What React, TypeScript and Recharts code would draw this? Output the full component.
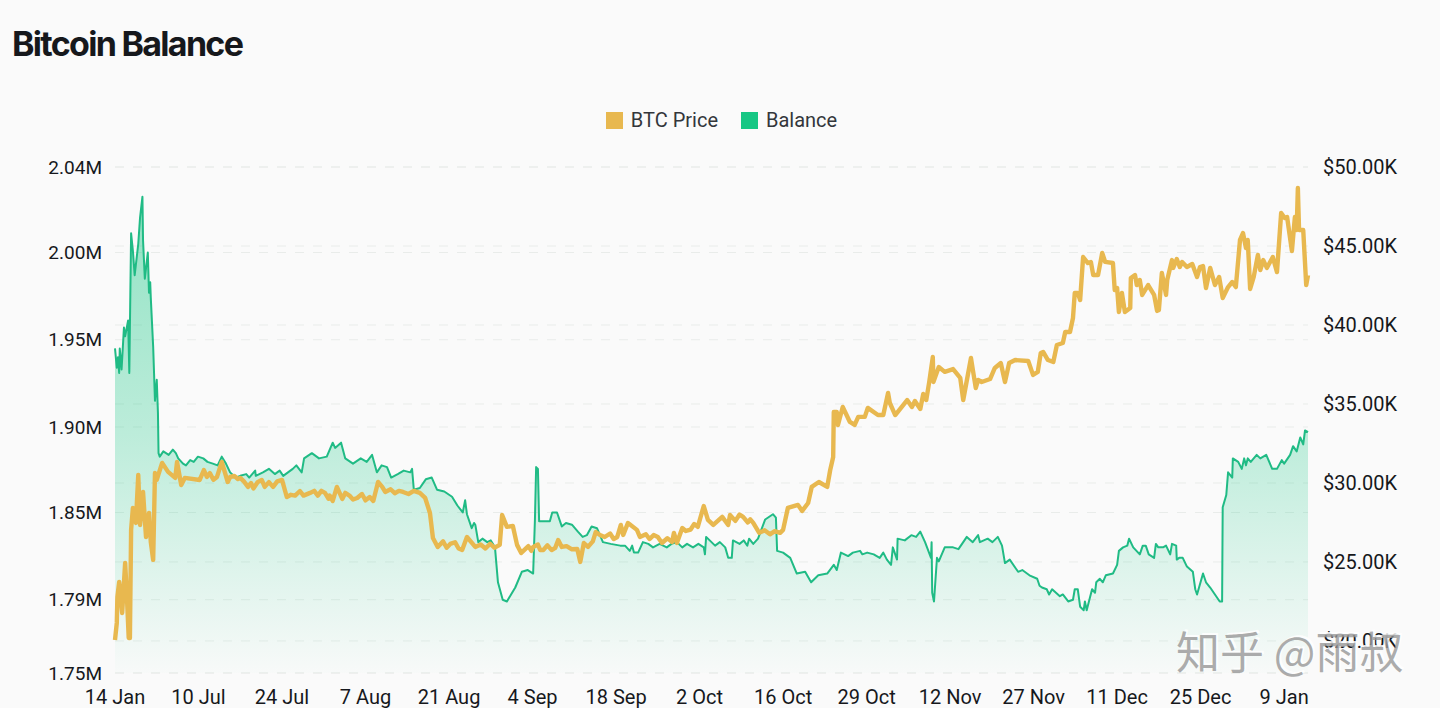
import {
  Area,
  CartesianGrid,
  ComposedChart,
  Legend,
  Line,
  XAxis,
  YAxis,
} from "recharts";

const gold = "#e8b84f";
const green = "#16c784";
const lineGreen = "#20bb85";
const gridColor = "#e9ecea";
const inkColor = "#16181c";
const tickFont = "Roboto, Inter, sans-serif";

const dayTicks = [0, 14, 28, 42, 56, 70, 84, 98, 112, 126, 140, 154, 168, 182, 196];
const dayLabels = [
  "14 Jan", "10 Jul", "24 Jul", "7 Aug", "21 Aug", "4 Sep", "18 Sep", "2 Oct",
  "16 Oct", "29 Oct", "12 Nov", "27 Nov", "11 Dec", "25 Dec", "9 Jan",
];
const balanceTicks = [1.75, 1.792, 1.842, 1.891, 1.941, 1.991, 2.04];
const balanceLabels = ["1.75M", "1.79M", "1.85M", "1.90M", "1.95M", "2.00M", "2.04M"];
const priceTicks = [20, 25, 30, 35, 40, 45, 50];

const balanceDays = [
  0, 0.3, 0.5, 0.7, 0.8, 1.1, 1.5, 1.7, 2.2, 2.4, 2.7, 3.0, 3.3, 3.9, 4.2, 4.6, 4.7, 5.0, 5.5, 5.7,
  5.9, 6.0, 6.4, 6.7, 7.0, 7.2, 7.3, 7.5, 8.1, 9.7, 10.6, 11.9, 12.6, 14.8, 16.4, 17.9, 19.3, 21.0, 22.5, 23.5,
  23.6, 24.8, 28.2, 29.8, 31.3, 31.7, 35.5, 36.5, 37.9, 38.6, 39.9, 43.1, 43.9, 45.6, 46.3, 49.5, 49.8, 50.1, 51.1, 52.1,
  53.1, 54.0, 56.5, 58.3, 58.7, 59.0, 59.8, 60.4, 60.9, 62.4, 63.7, 64.2, 65.0, 65.7, 67.1, 68.2, 69.2, 70.1, 70.4, 70.6,
  70.9, 71.1, 72.9, 73.3, 74.1, 74.9, 76.6, 77.6, 79.1, 80.8, 81.8, 84.7, 86.3, 86.7, 87.0, 87.7, 88.5, 90.2, 92.5, 94.2,
  95.1, 96.9, 98.7, 98.9, 99.1, 100.6, 102.3, 102.8, 103.4, 103.6, 106.0, 106.3, 107.0, 107.8, 109.0, 110.3, 110.8, 111.0, 112.0, 113.2,
  114.3, 115.7, 116.7, 117.9, 119.4, 120.5, 121.0, 121.7, 122.9, 123.7, 126.1, 128.2, 128.8, 130.1, 130.4, 131.1, 131.2, 132.4, 135.0, 135.8,
  136.8, 136.9, 137.0, 137.3, 137.8, 138.1, 139.1, 140.5, 142.2, 142.8, 143.8, 144.7, 145.0, 148.0, 148.7, 149.2, 150.0, 151.4, 152.1, 154.6,
  155.4, 156.2, 156.6, 157.1, 158.4, 159.8, 160.6, 160.9, 161.4, 161.8, 162.4, 162.6, 162.9, 163.8, 164.3, 164.5, 165.1, 165.6, 166.1, 167.3,
  168.0, 168.3, 169.0, 169.7, 170.0, 170.7, 171.8, 172.3, 172.8, 173.3, 174.2, 174.5, 174.9, 175.7, 176.2, 176.9, 177.2, 177.9, 178.0, 178.4,
  179.0, 179.7, 180.7, 181.1, 181.4, 182.4, 182.9, 183.6, 184.4, 185.2, 185.6, 185.7, 186.3, 186.6, 187.3, 187.4, 188.3, 188.9, 189.3, 189.6,
  189.9, 190.4, 191.4, 192.0, 193.0, 194.0, 194.8, 195.6, 196.0, 197.0, 197.5, 198.1, 198.7, 199.2, 199.5, 200,
];
const balanceValues = [
  1.936, 1.925, 1.931, 1.922, 1.936, 1.924, 1.948, 1.943, 1.952, 1.922, 2.002, 1.992, 1.978, 1.996, 2.011, 2.023, 1.998, 1.976, 1.991, 1.968,
  1.974, 1.965, 1.937, 1.906, 1.918, 1.899, 1.876, 1.874, 1.877, 1.878, 1.873, 1.869, 1.872, 1.873, 1.870, 1.874, 1.865, 1.863, 1.862, 1.866,
  1.863, 1.865, 1.863, 1.867, 1.865, 1.873, 1.874, 1.882, 1.882, 1.873, 1.870, 1.875, 1.865, 1.868, 1.862, 1.865, 1.867, 1.855, 1.856, 1.861,
  1.862, 1.855, 1.851, 1.842, 1.849, 1.841, 1.833, 1.835, 1.825, 1.825, 1.822, 1.802, 1.792, 1.791, 1.799, 1.808, 1.809, 1.807, 1.838, 1.868,
  1.867, 1.837, 1.837, 1.842, 1.842, 1.834, 1.835, 1.831, 1.829, 1.833, 1.825, 1.823, 1.820, 1.823, 1.819, 1.819, 1.825, 1.822, 1.822, 1.825,
  1.822, 1.822, 1.822, 1.818, 1.828, 1.823, 1.822, 1.816, 1.816, 1.826, 1.823, 1.827, 1.824, 1.827, 1.838, 1.841, 1.839, 1.820, 1.819, 1.816,
  1.807, 1.808, 1.802, 1.806, 1.807, 1.812, 1.809, 1.819, 1.817, 1.819, 1.819, 1.816, 1.819, 1.812, 1.822, 1.815, 1.827, 1.826, 1.831, 1.825,
  1.816, 1.825, 1.796, 1.791, 1.816, 1.814, 1.822, 1.822, 1.825, 1.828, 1.825, 1.829, 1.825, 1.828, 1.823, 1.813, 1.815, 1.808, 1.809, 1.804,
  1.799, 1.798, 1.795, 1.798, 1.794, 1.791, 1.792, 1.798, 1.798, 1.788, 1.786, 1.791, 1.786, 1.798, 1.796, 1.802, 1.804, 1.802, 1.806, 1.807,
  1.812, 1.820, 1.822, 1.823, 1.827, 1.822, 1.818, 1.823, 1.823, 1.818, 1.816, 1.824, 1.822, 1.822, 1.823, 1.818, 1.824, 1.823, 1.815, 1.816,
  1.816, 1.811, 1.808, 1.798, 1.795, 1.807, 1.802, 1.799, 1.795, 1.791, 1.791, 1.845, 1.852, 1.865, 1.862, 1.873, 1.871, 1.867, 1.873, 1.869,
  1.873, 1.871, 1.875, 1.873, 1.875, 1.867, 1.867, 1.872, 1.870, 1.875, 1.880, 1.877, 1.885, 1.881, 1.889, 1.888,
];

// small wiggles
const balanceDetailDays = [
  9.0, 10.2, 11.4, 13.2, 13.9, 15.5, 17.2, 18.6, 20.2, 22.0, 25.8, 26.8, 27.6, 29.0, 30.4, 33.0, 34.2, 36.9, 41.2, 42.2,
  44.7, 47.4, 48.4, 55.2, 57.4, 60.2, 61.6, 63.0, 66.4, 75.6, 78.4, 79.9, 83.1, 85.5, 89.4, 91.3, 93.3, 95.9, 97.8, 101.4,
  104.7, 105.4, 124.9, 125.3, 127.2, 129.4, 133.5, 134.3, 141.4, 146.3, 147.1, 153.3, 155.0, 158.9,
];
const balanceDetailValues = [
  1.875, 1.876, 1.870, 1.871, 1.874, 1.871, 1.869, 1.870, 1.862, 1.864, 1.867, 1.864, 1.866, 1.865, 1.869, 1.876, 1.873, 1.879, 1.873, 1.871,
  1.869, 1.864, 1.866, 1.854, 1.846, 1.836, 1.827, 1.826, 1.795, 1.836, 1.828, 1.834, 1.824, 1.823, 1.824, 1.824, 1.824, 1.824, 1.824, 1.825,
  1.824, 1.826, 1.820, 1.818, 1.818, 1.815, 1.829, 1.828, 1.821, 1.827, 1.825, 1.806, 1.800, 1.795,
];

const priceDays = [
  0, 0.3, 0.4, 0.7, 1.2, 1.7, 2.0, 2.3, 2.5, 2.7, 3.0, 3.5, 3.9, 4.2, 4.7, 5.2, 5.7, 6.0, 6.4, 6.7,
  7.0, 7.9, 8.9, 10.1, 10.4, 11.1, 11.7, 14.2, 14.9, 15.4, 17.1, 17.9, 18.9, 19.3, 21.0, 22.3, 24.6, 25.1, 28.0, 28.8,
  31.0, 32.7, 35.2, 36.5, 37.2, 38.1, 38.6, 40.6, 42.7, 43.3, 44.1, 44.8, 45.3, 48.3, 51.1, 52.0, 52.8, 53.3, 54.1, 56.2,
  58.2, 59.0, 60.4, 64.5, 64.9, 65.7, 66.7, 67.4, 68.1, 70.1, 71.8, 73.8, 74.3, 74.9, 77.5, 78.0, 78.6, 79.3, 81.3, 82.1,
  84.2, 84.8, 85.2, 86.0, 87.5, 88.0, 91.0, 91.7, 93.4, 93.7, 94.2, 95.1, 95.7, 97.7, 98.7, 99.4, 100.3, 101.8, 102.8, 103.1,
  105.3, 107.0, 108.0, 111.5, 112.0, 112.8, 114.5, 115.2, 116.2, 116.8, 118.0, 119.4, 119.9, 120.4, 120.5, 121.0, 121.2, 122.0, 123.2, 124.0,
  124.6, 125.7, 126.2, 127.9, 128.8, 129.6, 129.9, 130.8, 132.8, 133.6, 134.1, 135.0, 135.5, 136.0, 136.5, 137.1, 137.2, 138.1, 139.1, 140.5,
  141.7, 142.2, 143.5, 144.3, 144.7, 145.3, 146.7, 147.5, 148.5, 149.2, 149.9, 150.9, 153.1, 153.9, 154.7, 155.2, 155.6, 156.4, 157.3, 157.9,
  158.9, 159.3, 160.1, 160.6, 160.9, 161.4, 161.8, 162.3, 163.1, 163.6, 164.0, 164.8, 165.5, 166.0, 167.3, 167.6, 168.0, 168.3, 168.8, 169.3,
  170.2, 170.3, 171.0, 171.3, 171.8, 172.2, 173.2, 174.2, 174.7, 175.0, 175.5, 176.2, 176.4, 177.2, 177.4, 178.0, 178.5, 178.9, 179.7, 180.6,
  181.4, 181.9, 182.4, 182.9, 183.6, 184.4, 185.1, 185.7, 186.6, 187.3, 187.9, 188.6, 189.1, 189.6, 189.9, 190.3, 190.9, 191.6, 192.0, 192.5,
  193.1, 194.1, 194.8, 195.5, 196.1, 196.5, 197.3, 197.8, 198.1, 198.3, 198.5, 199.2, 199.7, 200,
];
const priceValues = [
  20.06, 21.14, 22.78, 23.73, 21.77, 24.94, 22.78, 20.19, 20.19, 27.03, 28.42, 27.47, 30.51, 27.34, 29.43, 26.58, 28.10, 26.27, 25.13, 30.63,
  30.19, 31.27, 30.70, 30.32, 31.33, 29.87, 30.32, 30.19, 30.82, 30.38, 30.38, 31.33, 30.06, 30.38, 30.32, 29.75, 30.19, 29.75, 30.19, 29.11,
  29.49, 29.37, 29.37, 28.86, 29.75, 28.99, 29.37, 29.05, 29.11, 28.86, 30.06, 29.75, 29.43, 29.43, 29.37, 29.05, 28.10, 26.52, 25.95, 26.14,
  25.76, 26.58, 25.95, 26.08, 27.97, 27.22, 27.28, 26.08, 25.57, 25.95, 25.76, 25.89, 26.39, 25.95, 25.82, 25.00, 26.20, 25.95, 26.71, 26.58,
  26.58, 27.34, 26.71, 27.47, 27.03, 26.58, 26.58, 26.20, 26.27, 26.84, 26.20, 27.15, 26.96, 27.22, 28.54, 27.66, 27.34, 27.85, 27.34, 27.97,
  27.85, 27.47, 26.84, 26.84, 27.03, 28.42, 28.61, 28.23, 28.73, 29.75, 30.06, 29.75, 30.82, 31.65, 34.49, 34.49, 33.67, 34.81, 33.86, 33.67,
  34.18, 34.18, 34.75, 34.30, 34.30, 35.70, 35.06, 34.30, 35.25, 34.81, 35.19, 34.68, 35.63, 35.25, 36.39, 37.97, 36.39, 37.34, 37.03, 37.21,
  36.65, 35.25, 37.91, 36.01, 36.52, 36.39, 36.58, 37.28, 37.59, 36.39, 37.59, 37.78, 37.72, 36.84, 37.03, 38.23, 38.29, 37.78, 37.66, 38.73,
  38.86, 39.56, 39.56, 40.44, 42.03, 42.03, 41.58, 44.30, 43.92, 43.99, 43.16, 43.16, 44.56, 43.99, 43.92, 42.21, 42.34, 40.82, 42.03, 40.82,
  41.08, 42.97, 43.16, 42.53, 42.85, 41.90, 42.53, 41.90, 40.89, 40.95, 43.29, 41.90, 42.85, 44.11, 43.61, 44.18, 43.67, 43.99, 43.67, 43.86,
  43.04, 43.67, 43.73, 42.34, 43.61, 42.53, 43.04, 41.71, 42.40, 42.72, 42.40, 45.38, 45.82, 44.87, 45.38, 42.28, 43.04, 44.43, 43.48, 44.11,
  43.61, 44.30, 43.35, 47.09, 46.77, 46.83, 44.68, 46.83, 46.01, 48.67, 46.01, 46.01, 42.53, 43.16,
];

const priceDetailDays = [
  15.9, 16.5, 20.0, 20.6, 21.6, 22.8, 23.2, 23.9, 25.8, 26.5, 27.2, 29.5, 30.2, 31.6, 33.4, 34.0, 34.6, 35.8, 36.0, 39.3,
  39.9, 41.4, 42.0, 46.2, 46.9, 47.6, 49.2, 50.1, 55.0, 55.6, 57.0, 57.6, 61.3, 62.1, 62.9, 63.6, 69.3, 69.8, 70.9, 71.3,
  72.5, 73.2, 75.7, 76.6, 80.1, 80.6, 83.0, 83.6, 89.0, 89.6, 90.3, 92.6, 96.5, 97.1, 104.0, 104.7, 106.1, 106.5, 108.9, 109.8,
  110.6,
];
const priceDetailValues = [
  30.62, 30.20, 30.45, 30.25, 30.10, 30.00, 29.65, 30.05, 30.05, 29.75, 30.10, 29.25, 29.20, 29.20, 29.50, 29.20, 29.50, 29.00, 29.20, 29.20,
  28.95, 29.30, 28.90, 29.60, 29.35, 29.50, 29.30, 29.50, 26.30, 25.90, 26.25, 25.85, 26.10, 25.85, 26.15, 25.90, 26.00, 25.70, 26.10, 25.75,
  26.05, 25.75, 26.00, 25.80, 26.30, 26.90, 26.80, 26.45, 26.75, 26.45, 26.70, 26.50, 27.05, 27.40, 27.60, 28.00, 27.50, 27.70, 27.00, 26.75,
  26.95,
];

type Row = { day: number; balance?: number; price?: number };

// the two series were read at different x positions, so merge them on the day
function buildRows(): Row[] {
  const rows = new Map<number, Row>();
  const put = (days: number[], values: number[], key: "balance" | "price") => {
    days.forEach((day, i) => {
      rows.set(day, { ...rows.get(day), day, [key]: values[i] });
    });
  };
  put(balanceDays, balanceValues, "balance");
  put(balanceDetailDays, balanceDetailValues, "balance");
  put(priceDays, priceValues, "price");
  put(priceDetailDays, priceDetailValues, "price");
  return [...rows.values()].sort((a, b) => a.day - b.day);
}

const rows = buildRows();

function ChartLegend({ payload }: { payload?: Array<{ value?: string; color?: string }> }) {
  return (
    <div style={{ display: "flex", justifyContent: "center", gap: 23, paddingLeft: 3 }}>
      {(payload ?? []).map((p) => (
        <div key={p.value} style={{ display: "flex", alignItems: "center", gap: 8 }}>
          <span
            style={{
              width: 17,
              height: 17,
              display: "inline-block",
              background: p.value === "Balance" ? green : gold,
            }}
          />
          <span style={{ color: "#33363b", fontFamily: tickFont, fontSize: 20 }}>{p.value}</span>
        </div>
      ))}
    </div>
  );
}

export default function App() {
  return (
    <div
      style={{
        position: "absolute",
        left: 0,
        top: 0,
        width: 1440,
        height: 708,
        overflow: "hidden",
        background: "#fafafa",
      }}
    >
      <div
        style={{
          position: "absolute",
          left: 12,
          top: 23,
          fontFamily: "Inter, sans-serif",
          fontSize: 34,
          fontWeight: 700,
          letterSpacing: -1.7,
          color: inkColor,
        }}
      >
        Bitcoin Balance
      </div>
      <ComposedChart
        width={1440}
        height={708}
        data={rows}
        margin={{ top: 143, right: 0, bottom: 0, left: 0 }}
      >
        <defs>
          <linearGradient id="balanceFill" x1="0" y1="0" x2="0" y2="1">
            <stop offset="0%" stopColor={green} stopOpacity={0.46} />
            <stop offset="50%" stopColor={green} stopOpacity={0.27} />
            <stop offset="100%" stopColor={green} stopOpacity={0.01} />
          </linearGradient>
        </defs>
        <CartesianGrid yAxisId="balance" stroke={gridColor} strokeDasharray="9 9" vertical={false} />
        <CartesianGrid yAxisId="price" stroke={gridColor} strokeDasharray="9 9" vertical={false} />
        <XAxis
          dataKey="day"
          type="number"
          domain={[0, 200]}
          ticks={dayTicks}
          interval={0}
          height={35}
          axisLine={false}
          tickLine={false}
          tickMargin={11}
          tick={{ fontFamily: tickFont, fontSize: 20, fill: inkColor }}
          tickFormatter={(d: number) => dayLabels[dayTicks.indexOf(d)]}
        />
        <YAxis
          yAxisId="balance"
          domain={[1.75, 2.04]}
          ticks={balanceTicks}
          interval={0}
          width={115}
          axisLine={false}
          tickLine={false}
          tickMargin={7}
          tick={{ fontFamily: tickFont, fontSize: 19, fill: inkColor }}
          tickFormatter={(v: number) => balanceLabels[balanceTicks.indexOf(v)]}
        />
        <YAxis
          yAxisId="price"
          orientation="right"
          domain={[17.97, 50]}
          ticks={priceTicks}
          interval={0}
          width={132}
          axisLine={false}
          tickLine={false}
          tickMargin={9}
          tick={{ fontFamily: tickFont, fontSize: 20, fill: inkColor }}
          tickFormatter={(v: number) => `$${v}.00K`}
        />
        <Legend
          verticalAlign="top"
          content={<ChartLegend />}
          wrapperStyle={{ top: 108, left: 0, width: 1440, height: 24 }}
        />
        <Area
          yAxisId="balance"
          dataKey="balance"
          name="Balance"
          type="linear"
          connectNulls
          stroke={lineGreen}
          strokeWidth={2}
          strokeLinejoin="round"
          fill="url(#balanceFill)"
          fillOpacity={1}
          dot={false}
          activeDot={false}
          legendType="square"
          isAnimationActive={false}
        />
        <Line
          yAxisId="price"
          dataKey="price"
          name="BTC Price"
          type="linear"
          connectNulls
          stroke={gold}
          strokeWidth={4.4}
          strokeLinejoin="round"
          dot={false}
          activeDot={false}
          legendType="square"
          isAnimationActive={false}
        />
      </ComposedChart>
      <div
        style={{
          position: "absolute",
          left: 1176,
          top: 618,
          fontFamily: "'Noto Sans CJK SC', sans-serif",
          fontSize: 44,
          whiteSpace: "nowrap",
          color: "rgba(150,150,150,0.8)",
          textShadow: "2px -2px 0 rgba(255,255,255,0.85)",
        }}
      >
        知乎 @雨叔
      </div>
    </div>
  );
}
